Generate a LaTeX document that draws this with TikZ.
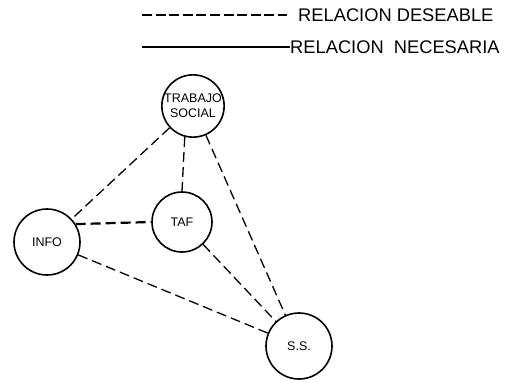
\documentclass[tikz,border=0pt]{standalone}
\usepackage{fontspec}
\setmainfont{Liberation Sans}
\usetikzlibrary{positioning}
\tikzset{
  area/.style={circle,draw=black,line width=1.6pt,fill=white,inner sep=0pt,minimum size=#1,align=center,font=\fontsize{12.5}{15}\selectfont},
  deseable/.style={line width=1.3pt,dash pattern=on 10pt off 5pt},
  fuerte/.style={deseable,line width=2.2pt},
  legdash/.style={line width=2.2pt,dash pattern=on 10pt off 3.6pt},
  legsolid/.style={line width=2.2pt},
  legtext/.style={anchor=west,inner sep=0pt,font=\fontsize{18.3}{20}\selectfont}
}
\begin{document}
\begin{tikzpicture}[x=1pt,y=-1pt]
  \useasboundingbox (0,0) rectangle (514,381);

  % leyenda
  \node[legtext] (legdes) at (298,15) {RELACION DESEABLE};
  \node[legtext] (legnec) at (290,47) {RELACION\ \ NECESARIA};
  \coordinate (d0) at (142,15);
  \coordinate (n0) at (142,47);
  \draw[legdash] (d0) -- (legdes.west -| 287,0);
  \draw[legsolid] (n0) -- (legnec.west);

  % areas
  \node[area=58pt] (ts) at (193,106) {TRABAJO\\SOCIAL};
  \node[area=60pt] (taf) at (182,222) {TAF};
  \node[area=66pt] (info) at (47,242) {INFO};
  \node[area=66pt] (ss) at (299,346) {S.S.};

  % relaciones
  \draw[deseable] (ts) -- (info);
  \draw[deseable] (ts.255) -- (taf.north);
  \draw[deseable] (ts) -- (ss);
  \draw[fuerte] (info.32) -- (taf.west);
  \draw[deseable] (info) -- (ss);
  \draw[deseable] (taf) -- (ss);
\end{tikzpicture}
\end{document}
